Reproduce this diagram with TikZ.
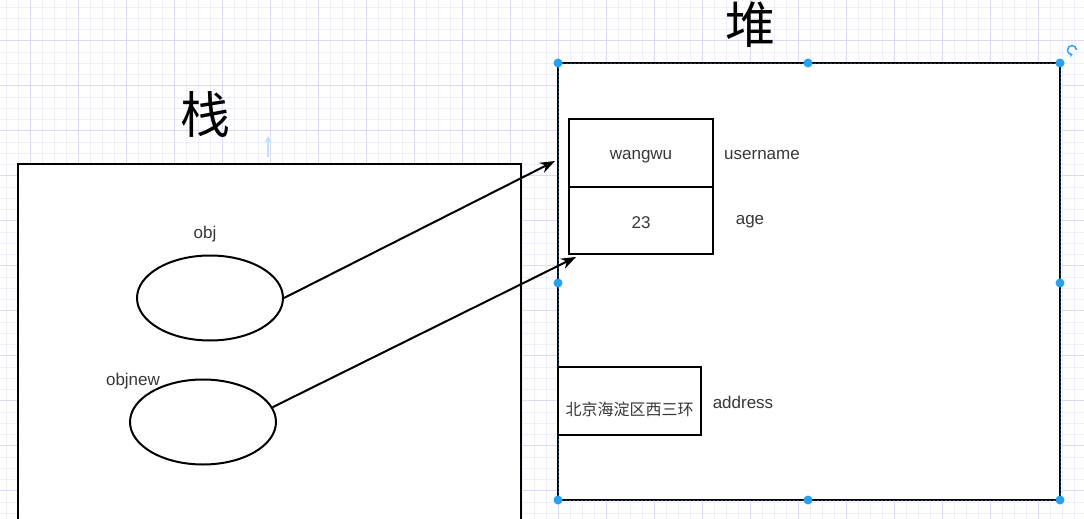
\documentclass[tikz,border=0pt]{standalone}
\usepackage{fontspec}
\setmainfont{Liberation Sans}
\newfontfamily\cjk{Noto Sans CJK SC}
\usetikzlibrary{shapes.geometric,arrows.meta}
\definecolor{gridminor}{RGB}{238,238,250}
\definecolor{gridmajor}{RGB}{218,218,242}
\definecolor{handle}{RGB}{41,160,240}
\definecolor{txt}{RGB}{55,55,55}
\begin{document}
\begin{tikzpicture}[x=1pt,y=-1pt,
  bigbox/.style={draw=black,fill=white,line width=2.2pt},
  field/.style={draw=black,fill=white,line width=2pt,minimum width=144pt,minimum height=68pt,inner sep=0pt},
  lbl/.style={font=\fontsize{17}{19}\selectfont,text=txt,inner sep=0pt},
  var/.style={draw=black,line width=2pt,ellipse,minimum width=146pt,minimum height=85pt,inner sep=0pt},
  ptr/.style={line width=2pt,-{Stealth[length=15pt,width=11pt]}},
  dot/.style={fill=handle},
  title/.style={font=\cjk\fontsize{50}{54}\selectfont,inner sep=0pt}]
\useasboundingbox (0,0) rectangle (1084,519);
\clip (0,0) rectangle (1084,519);
\fill[white] (0,0) rectangle (1084,519);
% grid
\foreach \i in {0,...,90} \draw[gridminor,line width=0.6pt] ({6+12*\i},0) -- ++(0,519);
\foreach \j in {0,...,46} \draw[gridminor,line width=0.6pt] (0,{6.95+11.25*\j}) -- ++(1084,0);
\foreach \i in {0,...,22} \draw[gridmajor,line width=0.7pt] ({30+48*\i},0) -- ++(0,519);
\foreach \j in {0,...,12} \draw[gridmajor,line width=0.7pt] (0,{-4.3+45*\j}) -- ++(1084,0);
% faint UI arrow
\draw[handle!30,line width=1.8pt,-{Stealth[length=7pt,width=7pt]}] (268,157) -- (268,136);
% titles
\node[title] (zhan) at (205,114) {栈};
\node[title] (dui) at (750,25) {堆};
% stack
\draw[bigbox] (18,164) rectangle (521,545);
\node[var] (obj) at (210,298) {};
\node[var] (objnew) at (203,422) {};
\node[lbl] (objl) at (205,234) {obj};
\node[lbl] (objnewl) at (133,381) {objnew};
% heap
\draw[bigbox] (558,63) rectangle (1060,500);
\draw[handle!40!black,line width=0.8pt,dash pattern=on 2pt off 2pt] (558,63) rectangle (1060,500);
\node[field] (wang) at (641,153) {};
\node[field,minimum height=67pt] (age) at (641,220.5) {};
\node[field,minimum width=143pt] (addr) at (629.5,401) {};
\node[lbl] (wangt) at ([yshift=-4pt]wang.center) {wangwu};
\node[lbl] (aget) at ([yshift=-2pt]age.center) {23};
\node[lbl,font=\cjk\fontsize{16}{18}\selectfont] (addrt) at ([yshift=-8pt]addr.center) {北京海淀区西三环};
\node[lbl] (userl) at (762,155) {username};
\node[lbl] (agel) at (750,222) {age};
\node[lbl] (addrl) at (743,402) {address};
% handles
\foreach \p in {(558,63),(808,63),(1060,63),(558,283),(1060,283),(558,500),(808,500),(1060,500)}
  \fill[dot] \p circle (4.5);
\draw[handle,line width=1.4pt,-{Stealth[length=3pt,width=4pt]}] (1076.5,50) arc[start angle=0,end angle=-280,radius=4.5];
% pointers
\draw[ptr] (obj.east) -- ([xshift=-13pt,yshift=-8pt]wang.west);
\draw[ptr] (objnew.12) -- ([xshift=8pt,yshift=-2pt]age.south west);
\end{tikzpicture}
\end{document}
